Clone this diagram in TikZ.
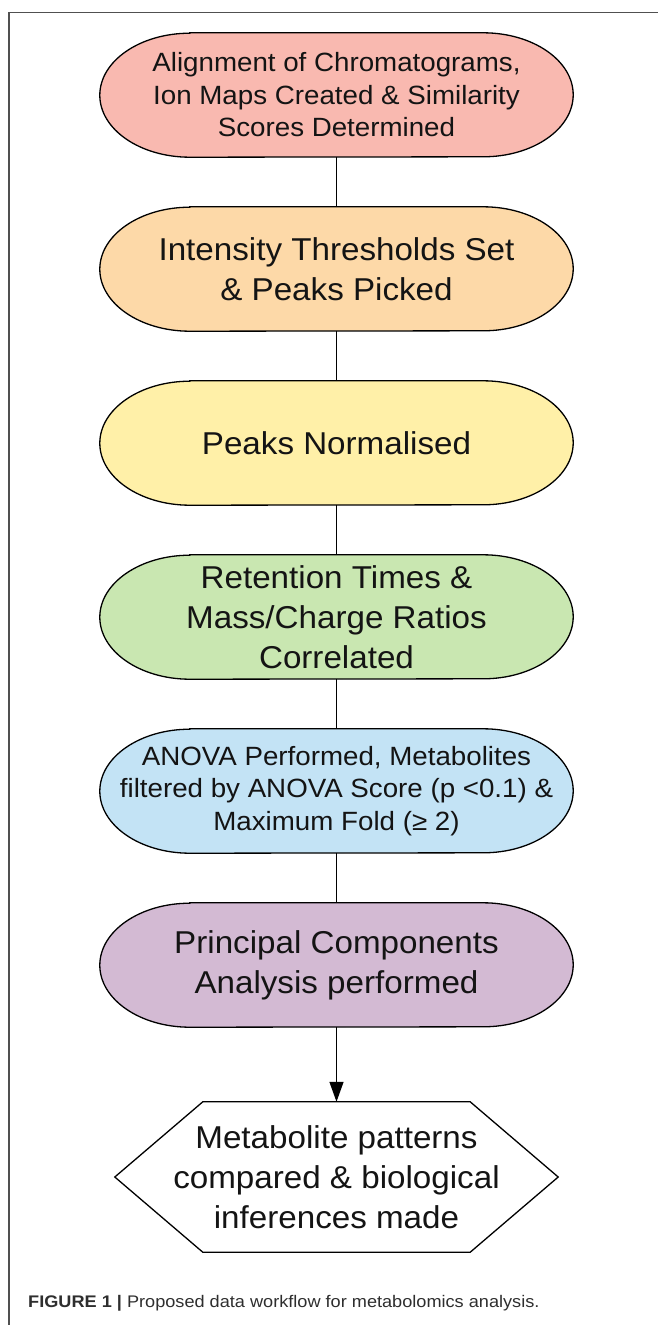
\documentclass[tikz,border=0pt]{standalone}
\usepackage{fontspec}
\setmainfont{Liberation Sans}
\newfontfamily\boxfont[FakeStretch=1.05]{Liberation Sans}
\newfontfamily\capfont[FakeStretch=1.08]{Liberation Sans}
\usetikzlibrary{arrows.meta,backgrounds}

\definecolor{cPink}{HTML}{F9B9B0}
\definecolor{cOrange}{HTML}{FDD9A8}
\definecolor{cYellow}{HTML}{FFF0A8}
\definecolor{cGreen}{HTML}{C9E7B1}
\definecolor{cBlue}{HTML}{C3E3F5}
\definecolor{cPurple}{HTML}{D3BAD3}
\definecolor{cFrame}{HTML}{505050}
\definecolor{cText}{HTML}{141414}
\definecolor{cCaption}{HTML}{2E2E2E}

\tikzset{
  stagebox/.style={rectangle, inner sep=0pt, minimum width=473pt,
    minimum height=124pt, align=center, text=cText},
  bigtext/.style={font=\boxfont\fontsize{31.6}{40}\selectfont},
  smalltext/.style={font=\boxfont\fontsize{26.4}{32.5}\selectfont},
  outline/.style={draw=black, line width=1.3pt},
  link/.style={draw=black, line width=1.3pt},
}

% rounded "terminator" outline with elliptical ends around a stage node
\newcommand\terminator[2]{%
  \path[outline, fill=#2]
    ([xshift=90pt]#1.north west) -- ([xshift=-90pt]#1.north east)
    arc[start angle=90, end angle=-90, x radius=90pt, y radius=62pt]
    -- ([xshift=90pt]#1.south west)
    arc[start angle=270, end angle=90, x radius=90pt, y radius=62pt]
    -- cycle;}

\begin{document}
\begin{tikzpicture}[x=1pt, y=1pt]
\useasboundingbox (0,0) rectangle (658,-1325);

% frame
\draw[cFrame, line width=1.5pt] (9,-1325) -- (9,-12.5) -- (658,-12.5);

% stages
\node[stagebox, smalltext] (s1) at (336.5,-95)
  {Alignment of Chromatograms,\\Ion Maps Created \& Similarity\\Scores Determined};
\node[stagebox, bigtext] (s2) at (336.5,-269)
  {Intensity Thresholds Set\\\& Peaks Picked};
\node[stagebox, bigtext] (s3) at (336.5,-443)
  {Peaks Normalised};
\node[stagebox, bigtext] (s4) at (336.5,-617)
  {Retention Times \&\\Mass/Charge Ratios\\Correlated};
\node[stagebox, smalltext] (s5) at (336.5,-791)
  {ANOVA Performed, Metabolites\\filtered by ANOVA Score (p <0.1) \&\\Maximum Fold (≥ 2)};
\node[stagebox, bigtext] (s6) at (336.5,-965)
  {Principal Components\\Analysis performed};
\node[rectangle, inner sep=0pt, minimum width=443pt, minimum height=150pt,
  align=center, text=cText, bigtext] (res) at (336.5,-1177)
  {Metabolite patterns\\compared \& biological\\inferences made};

\begin{scope}[on background layer]
  \terminator{s1}{cPink}
  \terminator{s2}{cOrange}
  \terminator{s3}{cYellow}
  \terminator{s4}{cGreen}
  \terminator{s5}{cBlue}
  \terminator{s6}{cPurple}
  \path[outline, fill=white]
    (res.west) -- ([xshift=88pt]res.north west) -- ([xshift=-88pt]res.north east)
    -- (res.east) -- ([xshift=-88pt]res.south east) -- ([xshift=88pt]res.south west)
    -- cycle;
\end{scope}

% connectors
\draw[link] (s1) -- (s2);
\draw[link] (s2) -- (s3);
\draw[link] (s3) -- (s4);
\draw[link] (s4) -- (s5);
\draw[link] (s5) -- (s6);
\draw[link, -{Triangle[length=20pt, width=14pt]}] (s6.south) -- (res.north);

% caption
\node[anchor=base west, inner sep=0pt, text=cCaption,
  font=\capfont\fontsize{16.8}{20}\selectfont] (cap) at (28,-1307)
  {\textbf{FIGURE 1 |} Proposed data workflow for metabolomics analysis.};
\end{tikzpicture}
\end{document}
